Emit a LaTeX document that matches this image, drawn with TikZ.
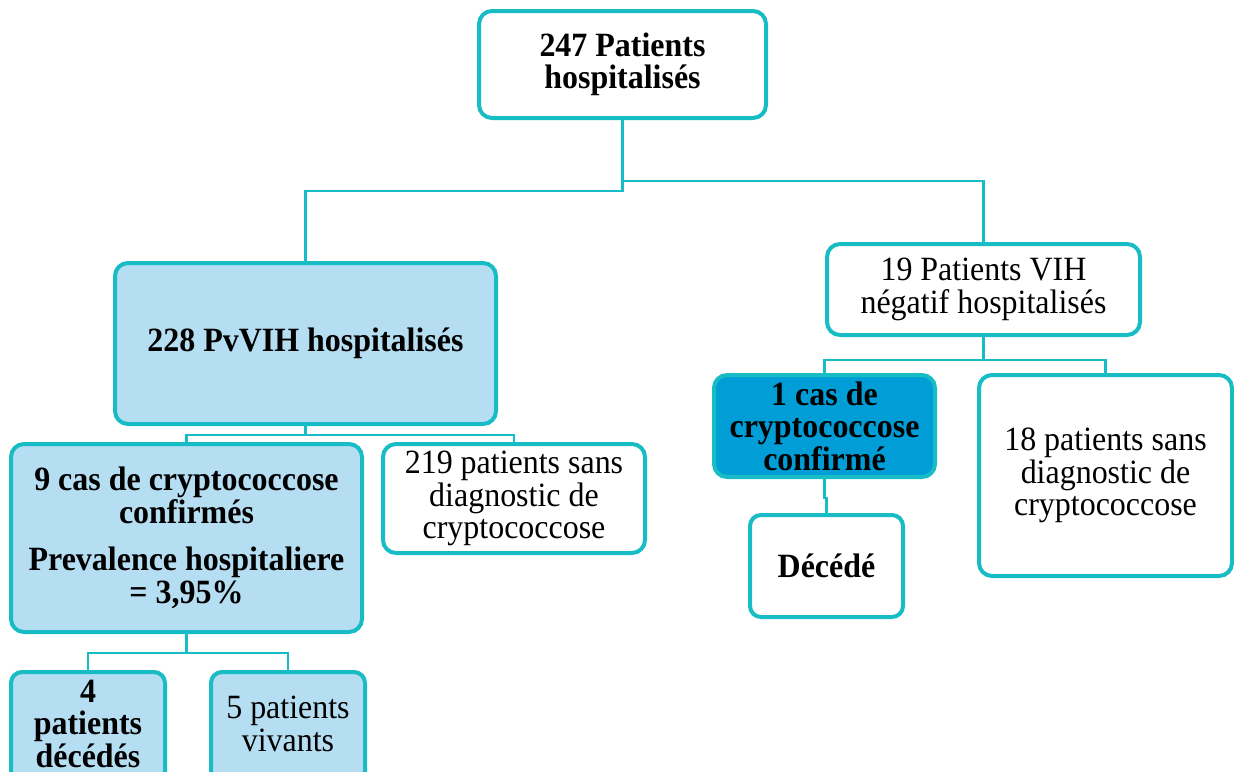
\documentclass[tikz,border=0pt]{standalone}
\usepackage{fontspec}
\setmainfont[FakeStretch=0.94]{Liberation Serif}
\definecolor{tealc}{RGB}{24,188,197}
\definecolor{lightb}{RGB}{181,222,242}
\definecolor{darkb}{RGB}{0,157,214}
\tikzset{
  box/.style={draw=tealc, line width=4pt, rounded corners=13pt, fill=white,
    align=center, inner sep=2pt, font=\fontsize{34}{32.5}\selectfont, text=black},
  lbox/.style={box, fill=lightb},
  dbox/.style={box, fill=darkb},
  conn/.style={draw=tealc, line width=2.6pt},
}
\begin{document}
\begin{tikzpicture}[x=1pt,y=-1pt]
\useasboundingbox (0,0) rectangle (1234,771);
\clip (0,0) rectangle (1234,771);
\fill[white] (0,0) rectangle (1234,771);
\coordinate (topL) at (622.5,191);
\coordinate (topR) at (622.5,181);
\node[box, minimum width=287pt, minimum height=107pt] (top) at (622.5,64.5) {\bfseries 247 Patients\\\bfseries hospitalisés};
\node[lbox, minimum width=381pt, minimum height=161pt] (pv) at (305.5,343.5) {\bfseries 228 PvVIH hospitalisés};
\node[box, minimum width=313pt, minimum height=91pt] (neg) at (983.5,289.5) {19 Patients VIH\\négatif hospitalisés};
\node[lbox, minimum width=351pt, minimum height=188pt] (cas9) at (186.5,538) {\bfseries 9 cas de cryptococcose\\\bfseries confirmés\\[15pt]\bfseries Prevalence hospitaliere\\\bfseries = 3,95\%};
\node[box, minimum width=262pt, minimum height=109pt] (s219) at (514,498.5) {219 patients sans\\diagnostic de\\cryptococcose};
\node[dbox, minimum width=221pt, minimum height=102pt] (cas1) at (824.5,426) {\bfseries 1 cas de\\\bfseries cryptococcose\\\bfseries confirmé};
\node[box, minimum width=253pt, minimum height=201pt] (s18) at (1105.5,475.5) {18 patients sans\\diagnostic de\\cryptococcose};
\node[box, rounded corners=11pt, minimum width=153pt, minimum height=102pt] (dec) at (826.5,566) {\bfseries Décédé};
\node[lbox, rounded corners=11pt, minimum width=154pt, minimum height=135.5pt] (d4) at (88,739.75) {\bfseries 4\\\bfseries patients\\\bfseries décédés\\\mbox{}};
\node[lbox, rounded corners=11pt, minimum width=154pt, minimum height=135.5pt] (v5) at (288,739.75) {5 patients\\vivants\\\mbox{}};
\draw[conn] (top.south) -- (topL) -| (pv.north);
\draw[conn] (topR) -| (neg.north);
\draw[conn] (pv.south) -- ++(0,9) coordinate (pvj) -| (cas9.north);
\draw[conn] (pvj) -| (s219.north);
\draw[conn] (cas9.south) -- ++(0,19) coordinate (c9j) -| (d4.north);
\draw[conn] (c9j) -| (v5.north);
\draw[conn] (neg.south) -- ++(0,23) coordinate (ngj) -| (cas1.north);
\draw[conn] (ngj) -| (s18.north);
\draw[conn] (cas1.south) -- ++(0,19) -| (dec.north);
\end{tikzpicture}
\end{document}
